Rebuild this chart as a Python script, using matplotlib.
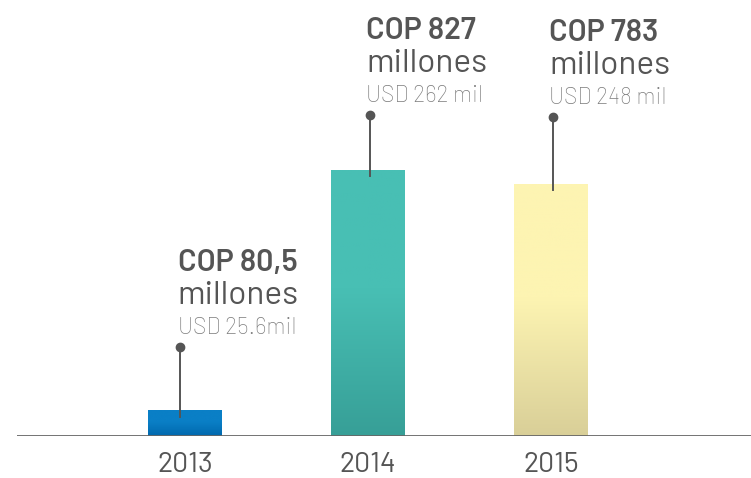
import numpy as np
import matplotlib.pyplot as plt
from matplotlib.colors import LinearSegmentedColormap

FONT = 'Barlow'

# Datos
years = ['2013', '2014', '2015']
cop_values = [80.5, 827, 783]
cop_labels = ['COP 80,5', 'COP 827', 'COP 783']
usd_labels = ['USD 25.6mil', 'USD 262 mil', 'USD 248 mil']
# altura del punto de cada etiqueta (en unidades del eje)
dot_levels = [277, 998, 991]

top_colors = ['#0a7fc6', '#48bfb4', '#fdf4b2']
bottom_colors = ['#0068ad', '#379f97', '#d9cf98']

fig = plt.figure(figsize=(7.51, 4.78), dpi=100)
ax = fig.add_axes([17 / 751, 42 / 478, 1 - 17 / 751, 436 / 478])
ax.axis('off')

x = np.arange(len(years))
bars = ax.bar(x, cop_values, width=0.40, color='none', linewidth=0)

# Degradado dentro de cada barra
for bar, c_top, c_bot in zip(bars, top_colors, bottom_colors):
    cmap = LinearSegmentedColormap.from_list('g', [(0, c_bot), (0.55, c_top), (1, c_top)])
    grad = np.linspace(0, 1, 256).reshape(-1, 1)
    x0, w, h = bar.get_x(), bar.get_width(), bar.get_height()
    im = ax.imshow(grad, cmap=cmap, origin='lower', aspect='auto',
                   extent=[x0, x0 + w, 0, h], zorder=2)
    im.set_clip_path(bar)

ax.set_xlim(-0.918, 3.093)
ax.set_ylim(0, 1355)

# Línea base
ax.axhline(0, color='#666666', linewidth=2, zorder=3)

# Etiquetas
for i, (v, dot, l1, l3) in enumerate(zip(cop_values, dot_levels, cop_labels, usd_labels)):
    sx = i + (0.01 if i else -0.03)
    ax.plot([sx, sx], [v - 20, dot], color='#555555', linewidth=1.4, zorder=4)
    ax.plot(sx, dot, 'o', color='#555555', markersize=6, zorder=5)
    tx = i - (0.01 if i else 0.04)
    ax.text(tx, dot + 40, l3, fontsize=16.5, color='#7c7c7c', family=FONT,
            fontweight='light', ha='left', va='baseline')
    ax.text(tx, dot + 133, 'millones', fontsize=24, color='#555555', family=FONT,
            ha='left', va='baseline')
    ax.text(tx, dot + 236, l1, fontsize=22, color='#555555', family=FONT,
            fontweight='semibold', ha='left', va='baseline')
    ax.text(i, -112, years[i], fontsize=20.5, color='#555555', family=FONT,
            ha='center', va='baseline')

fig.savefig('out.png', dpi=100)
